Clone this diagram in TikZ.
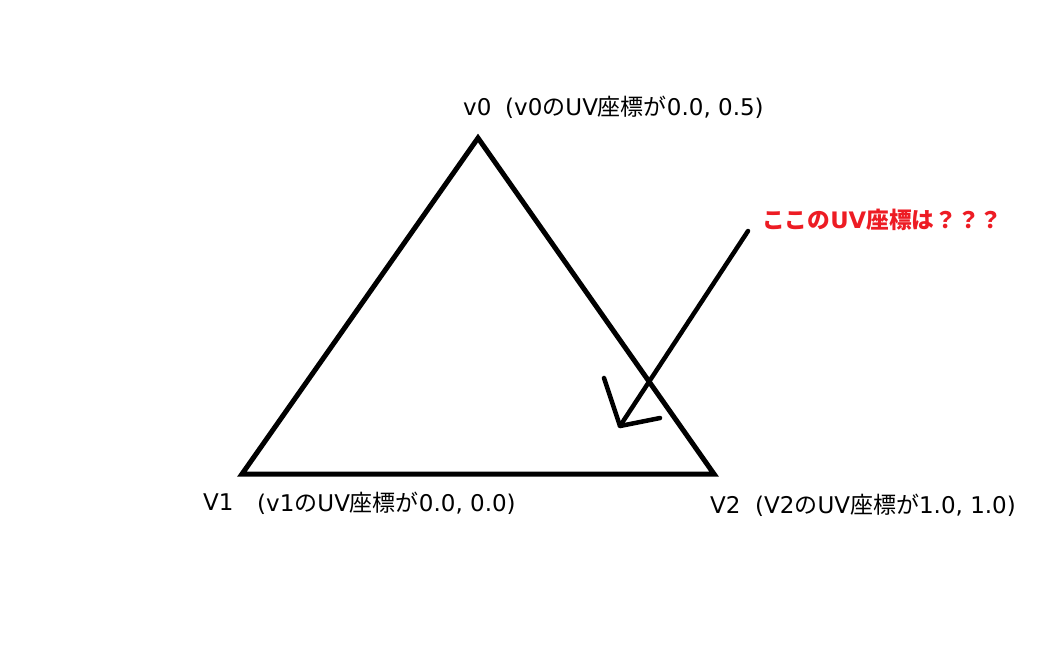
\documentclass[tikz,border=0pt]{standalone}
\usepackage{fontspec}
\setmainfont{DejaVu Sans}
\newfontfamily\jp{Noto Sans CJK JP}
\newcommand{\J}[1]{{\jp #1}}
\begin{document}
\begin{tikzpicture}[x=1pt,y=-1pt,
  lbl/.style={inner sep=0pt,anchor=base west,font=\fontsize{23}{26}\selectfont},
  redlbl/.style={inner sep=0pt,anchor=base west,font=\fontsize{22.7}{24}\selectfont\bfseries,text={rgb,255:red,237;green,28;blue,36}},
  edge/.style={line width=5pt,line join=miter},
  arr/.style={line width=4.5pt,line cap=round,line join=round}]
\useasboundingbox (0,0) rectangle (1046,670);
\coordinate (A) at (478,138);
\coordinate (B) at (242,474);
\coordinate (C) at (714,474);
\draw[edge] (A) -- (B) -- (C) -- cycle;
\node[lbl] (l0) at (463,115) {v0};
\node[lbl] (t0) at (505,115) {(v0\J{の}UV\J{座標が}0.0, 0.5)};
\node[lbl] (l1) at (203,510) {V1};
\node[lbl] (t1) at (257,511) {(v1\J{の}UV\J{座標が}0.0, 0.0)};
\node[lbl] (l2) at (710,513) {V2};
\node[lbl] (t2) at (755,513) {(V2\J{の}UV\J{座標が}1.0, 1.0)};
\node[redlbl] (q) at (762,228) {\J{ここの}UV\J{座標は？？？}};
\coordinate (s) at (748,231);
\coordinate (tip) at (620,426);
\coordinate (h1) at (604,378);
\coordinate (h2) at (660,418);
\draw[arr] (s) -- (tip);
\draw[arr] (h1) -- (tip) -- (h2);
\end{tikzpicture}
\end{document}
